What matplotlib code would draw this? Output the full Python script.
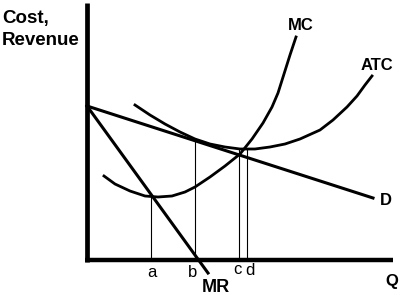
import matplotlib
matplotlib.use("Agg")
import matplotlib.pyplot as plt

# Coordinates: Q (quantity) and P (cost/revenue), origin at the axes corner
D_q = [0, 286]
D_p = [154, 62]
MR_q = [0, 121]
MR_p = [154, -13]
MC_q = [17, 28, 43, 58, 71, 85, 98, 108, 123, 138, 153, 165, 176, 185, 191, 197, 203, 209]
MC_p = [84, 76, 69, 64, 63, 64, 68, 73, 83, 94, 106, 121, 137, 153, 167, 186, 205, 223]
ATC_q = [48, 63, 78, 93, 108, 123, 138, 153, 168, 183, 198, 213, 233, 246, 260, 270, 278, 285]
ATC_p = [155, 145, 136, 128, 121, 116, 113, 111, 111, 113, 116, 121, 130, 140, 153, 164, 175, 184]
guide_labels = ["a", "b", "c", "d"]
guide_q = [64, 108, 152, 160]
guide_top = [63, 120, 111, 111]

fig = plt.figure(figsize=(4.09, 2.95), dpi=100)
ax = fig.add_axes([0, 0, 1, 1])
ax.set_xlim(-87, 322)
ax.set_ylim(-35, 260)
ax.axis("off")

k = "black"
# axes
ax.plot([0, 0], [-2, 257], color=k, lw=3.4, solid_capstyle="butt")
ax.plot([-2, 306], [0, 0], color=k, lw=3.2, solid_capstyle="butt")

# guide lines
for q, t in zip(guide_q, guide_top):
    ax.plot([q, q], [0, t], color=k, lw=0.8)

ax.plot(D_q, D_p, color=k, lw=2.2)
ax.plot(MR_q, MR_p, color=k, lw=2.2)
ax.plot(MC_q, MC_p, color=k, lw=2.0, solid_joinstyle="round")
ax.plot(ATC_q, ATC_p, color=k, lw=2.0, solid_joinstyle="round")

fam = ["Liberation Sans", "DejaVu Sans"]
ax.text(-85, 237, "Cost,", fontsize=13.5, fontweight="bold", family=fam, ha="left", va="baseline")
ax.text(-85, 215, "Revenue", fontsize=13.5, fontweight="bold", family=fam, ha="left", va="baseline")
ax.text(201, 230, "MC", fontsize=12, fontweight="bold", family=fam, ha="left", va="baseline")
ax.text(274, 190, "ATC", fontsize=12, fontweight="bold", family=fam, ha="left", va="baseline")
ax.text(293, 55, "D", fontsize=12, fontweight="bold", family=fam, ha="left", va="baseline")
ax.text(298, -26, "Q", fontsize=12, fontweight="bold", family=fam, ha="left", va="baseline")
ax.text(115, -32, "MR", fontsize=13, fontweight="bold", family=fam, ha="left", va="baseline")

lab_x = [60, 101, 146, 158]
lab_y = [-17, -17, -14, -15]
for s, x, y in zip(guide_labels, lab_x, lab_y):
    ax.text(x, y, s, fontsize=12, family=fam, ha="left", va="baseline")

fig.savefig("out.png", dpi=100)
